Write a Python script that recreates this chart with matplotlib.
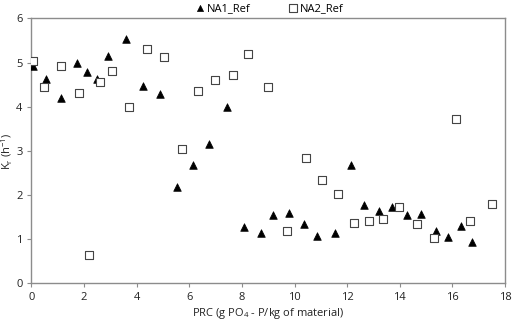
import numpy as np
import matplotlib as mpl

mpl.use('Agg')

import matplotlib.pyplot as plt

plt.rcParams['font.family'] = ['Open Sans', 'DejaVu Sans']
plt.rcParams['mathtext.default'] = 'regular'

# NA1_Ref (triangles)
na1_x = [0.05, 0.55, 1.12, 1.74, 2.10, 2.50, 2.92, 3.59, 4.23, 4.87, 5.53, 6.13,
         6.76, 7.42, 8.07, 8.73, 9.19, 9.78, 10.37, 10.87, 11.53, 12.16, 12.63,
         13.19, 13.72, 14.28, 14.81, 15.38, 15.82, 16.34, 16.75]
na1_y = [4.92, 4.62, 4.19, 5.00, 4.79, 4.63, 5.15, 5.53, 4.48, 4.28, 2.19, 2.68,
         3.15, 4.00, 1.27, 1.13, 1.55, 1.60, 1.34, 1.06, 1.15, 2.69, 1.78,
         1.63, 1.72, 1.55, 1.57, 1.18, 1.04, 1.29, 0.94]

# NA2_Ref (open squares)
na2_x = [0.05, 0.46, 1.12, 1.79, 2.17, 2.59, 3.05, 3.70, 4.39, 5.04, 5.71, 6.34,
         6.97, 7.64, 8.24, 9.00, 9.70, 10.43, 11.03, 11.64, 12.26, 12.81, 13.35,
         13.95, 14.65, 15.31, 16.14, 16.67, 17.51]
na2_y = [5.03, 4.44, 4.93, 4.32, 0.64, 4.55, 4.81, 4.00, 5.30, 5.12, 3.04, 4.35,
         4.60, 4.72, 5.20, 4.44, 1.19, 2.83, 2.34, 2.03, 1.36, 1.40, 1.46,
         1.73, 1.34, 1.03, 3.73, 1.42, 1.80]

fig = plt.figure(figsize=(5.12, 3.23), dpi=100)
ax = fig.add_axes([0.0615, 0.123, 0.925, 0.820])

ax.scatter(na1_x, na1_y, marker='^', s=30, c='black', edgecolors='black',
           linewidths=0.5, label='NA1_Ref', zorder=3)
ax.scatter(na2_x, na2_y, marker='s', s=40, facecolors='white', edgecolors='#444444',
           linewidths=0.8, label='NA2_Ref', zorder=3)

ax.set_xlim(0, 18)
ax.set_ylim(0, 6)
ax.set_xticks(np.arange(0, 19, 2))
ax.set_yticks(np.arange(0, 7, 1))

for s in ax.spines.values():
    s.set_color('#8c8c8c')
    s.set_linewidth(1.0)

ax.tick_params(direction='out', length=3, width=0.8, color='#8c8c8c',
               labelsize=8, labelcolor='#222222')

ax.set_xlabel('PRC (g PO$_4$ - P/kg of material)', fontsize=8, color='#222222', labelpad=2)
ax.set_ylabel('K$_r$ (h$^{-1}$)', fontsize=8, color='#222222')
ax.yaxis.set_label_coords(-0.034, 0.5)

ax.legend(loc='lower center', bbox_to_anchor=(0.5, 0.99), ncol=2, frameon=False,
          fontsize=8, handletextpad=0.0, handlelength=1.2, columnspacing=3.2,
          borderpad=0.1, markerscale=0.8)

fig.savefig('out.png', dpi=100)
